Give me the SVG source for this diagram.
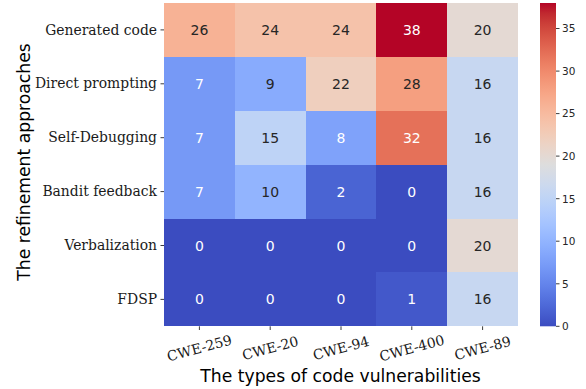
<svg xmlns="http://www.w3.org/2000/svg" width="586" height="389" viewBox="0 0 586 389">
<style>
.c{shape-rendering:crispEdges}
.v{font-family:"DejaVu Sans",sans-serif;font-size:14px;text-anchor:middle}
.d{fill:#262626}
.w{fill:#ffffff}
.yl{font-family:"DejaVu Serif",serif;font-size:13.9px;text-anchor:end;fill:#1a1a1a}
.xl{font-family:"DejaVu Serif",serif;font-size:13.9px;text-anchor:middle;fill:#1a1a1a}
.ax{font-family:"DejaVu Sans",sans-serif;font-size:17.2px;text-anchor:middle;fill:#000}
.cb{font-family:"DejaVu Sans",sans-serif;font-size:10.5px;fill:#262626}
.t{stroke:#262626;stroke-width:0.9}
</style>
<defs>
<linearGradient id="cw" x1="0" y1="1" x2="0" y2="0">
<stop offset="0" stop-color="rgb(59,76,192)"/>
<stop offset="0.03125" stop-color="rgb(68,90,204)"/>
<stop offset="0.0625" stop-color="rgb(77,104,215)"/>
<stop offset="0.09375" stop-color="rgb(87,117,225)"/>
<stop offset="0.125" stop-color="rgb(98,130,234)"/>
<stop offset="0.15625" stop-color="rgb(108,142,241)"/>
<stop offset="0.1875" stop-color="rgb(119,154,247)"/>
<stop offset="0.21875" stop-color="rgb(130,165,251)"/>
<stop offset="0.25" stop-color="rgb(141,176,254)"/>
<stop offset="0.28125" stop-color="rgb(152,185,255)"/>
<stop offset="0.3125" stop-color="rgb(163,194,255)"/>
<stop offset="0.34375" stop-color="rgb(174,201,253)"/>
<stop offset="0.375" stop-color="rgb(184,208,249)"/>
<stop offset="0.40625" stop-color="rgb(194,213,244)"/>
<stop offset="0.4375" stop-color="rgb(204,217,238)"/>
<stop offset="0.46875" stop-color="rgb(213,219,230)"/>
<stop offset="0.5" stop-color="rgb(221,221,221)"/>
<stop offset="0.53125" stop-color="rgb(229,216,209)"/>
<stop offset="0.5625" stop-color="rgb(236,211,197)"/>
<stop offset="0.59375" stop-color="rgb(241,204,184)"/>
<stop offset="0.625" stop-color="rgb(245,196,172)"/>
<stop offset="0.65625" stop-color="rgb(247,187,160)"/>
<stop offset="0.6875" stop-color="rgb(247,177,148)"/>
<stop offset="0.71875" stop-color="rgb(247,166,135)"/>
<stop offset="0.75" stop-color="rgb(244,154,123)"/>
<stop offset="0.78125" stop-color="rgb(241,141,111)"/>
<stop offset="0.8125" stop-color="rgb(236,127,99)"/>
<stop offset="0.84375" stop-color="rgb(229,112,88)"/>
<stop offset="0.875" stop-color="rgb(222,96,77)"/>
<stop offset="0.90625" stop-color="rgb(213,80,66)"/>
<stop offset="0.9375" stop-color="rgb(203,62,56)"/>
<stop offset="0.96875" stop-color="rgb(192,40,47)"/>
<stop offset="1" stop-color="rgb(180,4,38)"/>
</linearGradient>
</defs>
<rect width="586" height="389" fill="#ffffff"/>

<g id="row-generated-code">
<rect class="c" x="164" y="3" width="70.8" height="53.9" fill="#f7b295"/>
<rect class="c" x="234.8" y="3" width="70.8" height="53.9" fill="#f5c2aa"/>
<rect class="c" x="305.6" y="3" width="70.8" height="53.9" fill="#f5c2aa"/>
<rect class="c" x="376.4" y="3" width="70.8" height="53.9" fill="#b40426"/>
<rect class="c" x="447.2" y="3" width="70.8" height="53.9" fill="#e4d9d3"/>
<text class="v d" x="199.4" y="35">26</text>
<text class="v d" x="270.2" y="35">24</text>
<text class="v d" x="341" y="35">24</text>
<text class="v w" x="411.8" y="35">38</text>
<text class="v d" x="482.6" y="35">20</text>
</g>
<g id="row-direct-prompting">
<rect class="c" x="164" y="56.9" width="70.8" height="53.9" fill="#7699f6"/>
<rect class="c" x="234.8" y="56.9" width="70.8" height="53.9" fill="#88abfd"/>
<rect class="c" x="305.6" y="56.9" width="70.8" height="53.9" fill="#efcfbe"/>
<rect class="c" x="376.4" y="56.9" width="70.8" height="53.9" fill="#f59f80"/>
<rect class="c" x="447.2" y="56.9" width="70.8" height="53.9" fill="#c7d7f1"/>
<text class="v w" x="199.4" y="88.9">7</text>
<text class="v d" x="270.2" y="88.9">9</text>
<text class="v d" x="341" y="88.9">22</text>
<text class="v d" x="411.8" y="88.9">28</text>
<text class="v d" x="482.6" y="88.9">16</text>
</g>
<g id="row-self-debugging">
<rect class="c" x="164" y="110.8" width="70.8" height="53.9" fill="#7699f6"/>
<rect class="c" x="234.8" y="110.8" width="70.8" height="53.9" fill="#bed3f6"/>
<rect class="c" x="305.6" y="110.8" width="70.8" height="53.9" fill="#7fa2fa"/>
<rect class="c" x="376.4" y="110.8" width="70.8" height="53.9" fill="#e57159"/>
<rect class="c" x="447.2" y="110.8" width="70.8" height="53.9" fill="#c7d7f1"/>
<text class="v w" x="199.4" y="142.8">7</text>
<text class="v d" x="270.2" y="142.8">15</text>
<text class="v w" x="341" y="142.8">8</text>
<text class="v w" x="411.8" y="142.8">32</text>
<text class="v d" x="482.6" y="142.8">16</text>
</g>
<g id="row-bandit-feedback">
<rect class="c" x="164" y="164.7" width="70.8" height="53.9" fill="#7699f6"/>
<rect class="c" x="234.8" y="164.7" width="70.8" height="53.9" fill="#92b4fe"/>
<rect class="c" x="305.6" y="164.7" width="70.8" height="53.9" fill="#4a64d3"/>
<rect class="c" x="376.4" y="164.7" width="70.8" height="53.9" fill="#3b4cc0"/>
<rect class="c" x="447.2" y="164.7" width="70.8" height="53.9" fill="#c7d7f1"/>
<text class="v w" x="199.4" y="196.7">7</text>
<text class="v d" x="270.2" y="196.7">10</text>
<text class="v w" x="341" y="196.7">2</text>
<text class="v w" x="411.8" y="196.7">0</text>
<text class="v d" x="482.6" y="196.7">16</text>
</g>
<g id="row-verbalization">
<rect class="c" x="164" y="218.5" width="70.8" height="53.9" fill="#3b4cc0"/>
<rect class="c" x="234.8" y="218.5" width="70.8" height="53.9" fill="#3b4cc0"/>
<rect class="c" x="305.6" y="218.5" width="70.8" height="53.9" fill="#3b4cc0"/>
<rect class="c" x="376.4" y="218.5" width="70.8" height="53.9" fill="#3b4cc0"/>
<rect class="c" x="447.2" y="218.5" width="70.8" height="53.9" fill="#e4d9d3"/>
<text class="v w" x="199.4" y="250.5">0</text>
<text class="v w" x="270.2" y="250.5">0</text>
<text class="v w" x="341" y="250.5">0</text>
<text class="v w" x="411.8" y="250.5">0</text>
<text class="v d" x="482.6" y="250.5">20</text>
</g>
<g id="row-fdsp">
<rect class="c" x="164" y="272.4" width="70.8" height="53.9" fill="#3b4cc0"/>
<rect class="c" x="234.8" y="272.4" width="70.8" height="53.9" fill="#3b4cc0"/>
<rect class="c" x="305.6" y="272.4" width="70.8" height="53.9" fill="#3b4cc0"/>
<rect class="c" x="376.4" y="272.4" width="70.8" height="53.9" fill="#4358ca"/>
<rect class="c" x="447.2" y="272.4" width="70.8" height="53.9" fill="#c7d7f1"/>
<text class="v w" x="199.4" y="304.4">0</text>
<text class="v w" x="270.2" y="304.4">0</text>
<text class="v w" x="341" y="304.4">0</text>
<text class="v w" x="411.8" y="304.4">1</text>
<text class="v d" x="482.6" y="304.4">16</text>
</g>

<g id="y-axis">
<path class="t" d="M160.5 29.9H164M160.5 83.8H164M160.5 137.7H164M160.5 191.6H164M160.5 245.5H164M160.5 299.4H164"/>
<text class="yl" x="157" y="34.5">Generated code</text>
<text class="yl" x="157" y="88.4">Direct prompting</text>
<text class="yl" x="157" y="142.3">Self-Debugging</text>
<text class="yl" x="157" y="196.2">Bandit feedback</text>
<text class="yl" x="157" y="250.1">Verbalization</text>
<text class="yl" x="157" y="304">FDSP</text>
<text class="ax" transform="translate(29.5,162) rotate(-90)">The refinement approaches</text>
</g>

<g id="x-axis">
<path class="t" d="M199.4 326.3V330M270.2 326.3V330M341 326.3V330M411.8 326.3V330M482.6 326.3V330"/>
<text class="xl" transform="translate(199.4,348) rotate(-15)" y="5">CWE-259</text>
<text class="xl" transform="translate(270.2,348) rotate(-15)" y="5">CWE-20</text>
<text class="xl" transform="translate(341,348) rotate(-15)" y="5">CWE-94</text>
<text class="xl" transform="translate(411.8,348) rotate(-15)" y="5">CWE-400</text>
<text class="xl" transform="translate(482.6,348) rotate(-15)" y="5">CWE-89</text>
<text class="ax" x="340.5" y="381.5">The types of code vulnerabilities</text>
</g>

<g id="colorbar">
<rect x="540" y="3" width="16" height="323.3" fill="url(#cw)"/>
<path class="t" d="M556 326.3H559.5M556 283.8H559.5M556 241.2H559.5M556 198.7H559.5M556 156.1H559.5M556 113.6H559.5M556 71.1H559.5M556 28.5H559.5"/>
<text class="cb" x="562" y="330.1">0</text>
<text class="cb" x="562" y="287.6">5</text>
<text class="cb" x="562" y="245">10</text>
<text class="cb" x="562" y="202.5">15</text>
<text class="cb" x="562" y="159.9">20</text>
<text class="cb" x="562" y="117.4">25</text>
<text class="cb" x="562" y="74.9">30</text>
<text class="cb" x="562" y="32.3">35</text>
</g>
</svg>
